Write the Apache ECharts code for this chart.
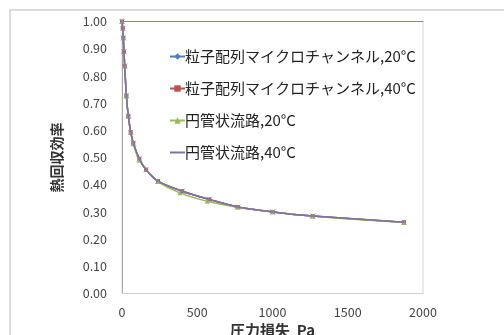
<!DOCTYPE html>
<html><head><meta charset="utf-8">
<script src="https://cdn.jsdelivr.net/npm/echarts@6/dist/echarts.min.js"></script>
<style>html,body{margin:0;padding:0;background:#fff}#c{width:504px;height:335px}</style>
</head><body><div id="c"></div>
<script>
const seriesNames = ['粒子配列マイクロチャンネル,20°C','粒子配列マイクロチャンネル,40°C','円管状流路,20°C','円管状流路,40°C'];
const xTicks = [0, 500, 1000, 1500, 2000];
const yTicks = [0, 0.1, 0.2, 0.3, 0.4, 0.5, 0.6, 0.7, 0.8, 0.9, 1.0];
const particle20 = [[0,1.00],[5,0.975],[9,0.94],[13,0.889],[18,0.836],[29,0.727],[42,0.652],[58,0.593],[75,0.553],[115,0.495],[160,0.455],[239,0.413],[400,0.376],[580,0.346],[769,0.318],[1001,0.300],[1267,0.285],[1874,0.262]];
const particle40 = [[0,1.00],[5,0.975],[9,0.94],[13,0.889],[18,0.836],[29,0.727],[42,0.652],[58,0.593],[75,0.553],[115,0.495],[160,0.455],[239,0.413],[400,0.376],[580,0.346],[769,0.318],[1001,0.300],[1267,0.285],[1874,0.262]];
const tube20 = [[0,1.00],[9,0.94],[18,0.836],[29,0.727],[42,0.652],[58,0.593],[75,0.551],[115,0.490],[239,0.412],[385,0.370],[567,0.339],[769,0.317],[1001,0.300],[1267,0.284],[1874,0.261]];
const tube40 = [[0,1.00],[5,0.975],[9,0.94],[13,0.889],[18,0.836],[29,0.727],[42,0.652],[58,0.593],[75,0.553],[115,0.495],[160,0.455],[239,0.413],[400,0.376],[580,0.346],[769,0.318],[1001,0.300],[1267,0.285],[1874,0.262]];
const colors = ['#4a7ebb','#c0504d','#9bbb59','#7e72a6'];
const F = '"Noto Sans CJK JP", "Noto Sans", sans-serif';
const chart = echarts.init(document.getElementById('c'));
const mk = (i, data, sym, sz) => ({
  name: seriesNames[i], type: 'line', data: data, smooth: 0.3,
  symbol: sym, symbolSize: sz, showSymbol: sym !== 'none',
  lineStyle: {color: colors[i], width: 1.5}, itemStyle: {color: colors[i]}, z: 2 + i
});
chart.setOption({
  animation: false,
  graphic: [{type: 'rect', shape: {x: 10, y: 10, width: 600, height: 400}, style: {fill: 'none', stroke: '#cfcfcf', lineWidth: 1.5}, z: -1}],
  grid: {left: 122, right: 81, top: 21.5, bottom: 41.5, show: true, borderColor: '#d6d6d6', borderWidth: 1, outerBoundsMode: 'none', containLabel: false},
  legend: {
    orient: 'vertical', left: 164, top: 44, itemWidth: 15, itemHeight: 8, itemGap: 17,
    data: [seriesNames[0], seriesNames[1], seriesNames[2], {name: seriesNames[3], itemStyle: {opacity: 0}}],
    textStyle: {fontFamily: F, fontSize: 15, color: '#222', lineHeight: 15, padding: [0,0,0,-5]}
  },
  xAxis: [{
    type: 'value', min: 0, max: 2000, interval: 500,
    axisLine: {show: true, lineStyle: {color: '#d0d0d0'}}, axisTick: {show: false}, splitLine: {show: false},
    axisLabel: {fontFamily: F, fontSize: 12.5, color: '#444', margin: 12, formatter: v => String(v)},
    name: '圧力損失  Pa', nameLocation: 'middle', nameGap: 29, nameMoveOverlap: false,
    nameTextStyle: {fontFamily: F, fontSize: 15, fontWeight: 'bold', color: '#333'}
  }, {
    type: 'value', position: 'top', min: 0, max: 2000,
    axisLine: {show: true, lineStyle: {color: '#7d86aa', width: 1}}, axisTick: {show: false}, axisLabel: {show: false}, splitLine: {show: false}
  }],
  yAxis: {
    type: 'value', min: 0, max: 1, interval: 0.1,
    axisLine: {show: true, lineStyle: {color: '#a8a8a8'}}, axisTick: {show: false}, splitLine: {show: false},
    axisLabel: {fontFamily: F, fontSize: 12.5, color: '#444', margin: 15, formatter: v => v.toFixed(2)},
    name: '熱回収効率', nameLocation: 'middle', nameGap: 58, nameRotate: 90, nameMoveOverlap: false,
    nameTextStyle: {fontFamily: F, fontSize: 14, fontWeight: 'bold', color: '#333'}
  },
  series: [
    mk(0, particle20, 'diamond', 4),
    mk(1, particle40, 'rect', 4),
    mk(2, tube20, 'triangle', 5),
    mk(3, tube40, 'none', 0),
    {type: 'scatter', data: tube40, symbol: 'path://M0,0L10,10M10,0L0,10', symbolSize: 5,
     itemStyle: {color: 'none', borderColor: '#8a84a8', borderWidth: 1}, z: 7, silent: true}
  ]
});
</script></body></html>
